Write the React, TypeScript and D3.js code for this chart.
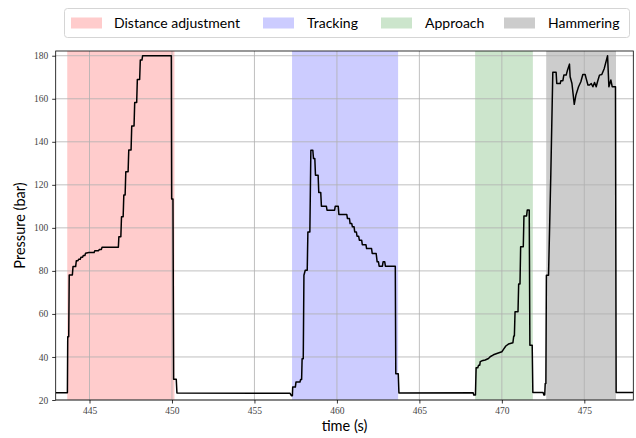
import { useEffect, useRef } from 'react'
import * as d3 from 'd3'

const W = 636, H = 438
const margin = { left: 55.7, right: 2.7, top: 51, bottom: 38 }

const xTicks = [445, 450, 455, 460, 465, 470, 475]
const yTicks = [20, 40, 60, 80, 100, 120, 140, 160, 180]

const phases = ['Distance adjustment', 'Tracking', 'Approach', 'Hammering']
const phaseStart = [443.65, 457.28, 468.38, 472.69]
const phaseEnd = [450.15, 463.71, 471.88, 476.92]
const phaseColors = ['#ffcccc', '#ccccff', '#cce5cc', '#cccccc']

// [time (s), pressure (bar)]
const trace: [number, number][] = [
  [442.95, 23.4], [443.66, 23.4], [443.68, 49.4], [443.74, 49.4], [443.77, 78.1], [443.96, 78.1],
  [444.0, 82.0], [444.16, 82.0], [444.2, 84.7], [444.3, 84.7], [444.34, 85.4], [444.44, 85.4],
  [444.48, 86.3], [444.58, 86.3], [444.62, 87.1], [444.72, 87.1], [444.76, 88.2], [444.96, 88.5],
  [445.28, 88.5], [445.32, 89.4], [445.55, 89.4], [445.6, 90.0], [445.72, 90.0], [445.76, 91.0],
  [446.75, 91.0], [446.78, 95.9], [446.9, 95.9], [446.94, 105.2], [447.04, 105.2], [447.08, 115.3],
  [447.16, 115.3], [447.2, 126.1], [447.34, 126.1], [447.38, 136.2], [447.52, 136.2], [447.56, 147.3],
  [447.7, 147.3], [447.74, 158.3], [447.86, 158.3], [447.9, 169.0], [448.04, 169.0], [448.08, 178.0],
  [448.18, 178.0], [448.22, 180.0], [449.96, 180.0], [449.98, 113.4], [450.06, 113.4], [450.1, 29.6],
  [450.26, 29.6], [450.3, 23.3],
  // tracking
  [457.16, 23.1], [457.24, 22.0], [457.3, 22.0], [457.32, 26.0], [457.48, 26.0], [457.52, 28.4],
  [457.76, 28.4], [457.8, 29.5], [457.86, 29.5], [457.89, 39.2], [457.96, 39.2], [458.0, 78.0],
  [458.08, 80.3], [458.2, 80.3], [458.24, 98.1], [458.36, 98.1], [458.42, 136.1], [458.54, 136.1],
  [458.58, 132.2], [458.66, 132.2], [458.7, 124.5], [458.86, 124.5], [458.9, 116.4], [459.02, 116.4],
  [459.06, 110.1], [459.36, 110.1], [459.4, 108.2], [459.86, 108.2], [459.9, 110.1], [460.08, 110.1],
  [460.12, 106.2], [460.6, 106.2], [460.64, 104.3], [460.76, 104.3], [460.8, 102.0], [460.9, 102.0],
  [460.94, 100.5], [461.04, 100.5], [461.08, 98.1], [461.18, 98.1], [461.22, 96.1], [461.32, 96.1],
  [461.36, 94.3], [461.5, 94.3], [461.54, 92.2], [461.76, 92.2], [461.8, 90.4], [462.1, 90.4],
  [462.14, 88.1], [462.38, 88.1], [462.44, 84.2], [462.52, 84.2], [462.56, 82.2], [462.76, 82.2],
  [462.8, 84.2], [462.9, 84.2], [462.94, 82.2], [463.54, 82.2], [463.57, 32.2], [463.72, 32.2],
  [463.76, 23.3],
  // approach
  [468.26, 23.4], [468.3, 22.3], [468.4, 22.3], [468.44, 35.0], [468.54, 35.0], [468.59, 36.2],
  [468.66, 36.2], [468.69, 37.8], [468.79, 38.2], [468.99, 38.6], [469.19, 39.3], [469.29, 40.1],
  [469.49, 41.0], [469.74, 41.7], [470.0, 42.4], [470.1, 43.5], [470.24, 45.1], [470.4, 46.0],
  [470.67, 46.6], [470.72, 49.7], [470.76, 49.7], [470.8, 61.0], [470.98, 61.0], [471.02, 73.9],
  [471.1, 73.9], [471.14, 91.2], [471.3, 91.2], [471.34, 105.5], [471.5, 105.5], [471.54, 108.3],
  [471.66, 108.3], [471.7, 45.5], [471.84, 45.5], [471.88, 23.5],
  // hammering
  [472.5, 23.5], [472.55, 22.3], [472.6, 22.3], [472.63, 27.7], [472.67, 27.7], [472.7, 78.0],
  [472.83, 78.0], [472.97, 125.3], [473.09, 172.3], [473.29, 172.3], [473.33, 167.1], [473.54, 167.1],
  [473.58, 168.4], [473.7, 168.4], [473.76, 171.0], [473.9, 171.0], [473.98, 173.3], [474.1, 176.1],
  [474.14, 170.2], [474.25, 167.1], [474.39, 157.4], [474.49, 161.7], [474.65, 165.6], [474.79, 167.9],
  [474.91, 171.3], [475.05, 171.3], [475.11, 169.5], [475.22, 166.4], [475.32, 166.4], [475.42, 167.1],
  [475.52, 165.6], [475.62, 167.6], [475.72, 165.6], [475.8, 167.9], [475.92, 171.0], [476.06, 171.3],
  [476.21, 174.1], [476.41, 180.0], [476.49, 165.6], [476.61, 168.7], [476.69, 165.6], [476.89, 165.6],
  [476.93, 23.5], [477.97, 23.5],
]

export default function App() {
  const svgRef = useRef<SVGSVGElement>(null)

  useEffect(() => {
    const svg = d3.select(svgRef.current)
    svg.selectAll('*').remove()

    const x = d3.scaleLinear().domain([442.95, 477.97]).range([margin.left, W - margin.right])
    const y = d3.scaleLinear().domain([20, 182.2]).range([H - margin.bottom, margin.top])
    const top = margin.top, bottom = H - margin.bottom

    svg.append('defs').append('clipPath').attr('id', 'plot')
      .append('rect')
      .attr('x', margin.left).attr('y', top)
      .attr('width', W - margin.left - margin.right).attr('height', bottom - top)

    // phase spans
    svg.append('g').selectAll('rect')
      .data(phases)
      .enter()
      .append('rect')
      .attr('x', (d, i) => x(phaseStart[i]))
      .attr('width', (d, i) => x(phaseEnd[i]) - x(phaseStart[i]))
      .attr('y', top)
      .attr('height', bottom - top)
      .attr('fill', (d, i) => phaseColors[i])

    // grid
    const grid = svg.append('g').attr('stroke', '#b0b0b0').attr('stroke-width', 0.8)
    xTicks.forEach(t => {
      grid.append('line').attr('x1', x(t)).attr('x2', x(t)).attr('y1', top).attr('y2', bottom)
    })
    yTicks.forEach(t => {
      grid.append('line').attr('x1', margin.left).attr('x2', W - margin.right).attr('y1', y(t)).attr('y2', y(t))
    })

    // pressure trace
    const line = d3.line<[number, number]>().x(d => x(d[0])).y(d => y(d[1]))
    svg.append('path')
      .attr('d', line(trace))
      .attr('fill', 'none')
      .attr('stroke', 'black')
      .attr('stroke-width', 1.5)
      .attr('stroke-linejoin', 'round')
      .attr('clip-path', 'url(#plot)')

    // axes
    const tickFont = '"Liberation Serif", serif'
    const xAxis = svg.append('g')
      .attr('transform', `translate(0,${bottom})`)
      .call(d3.axisBottom(x).tickValues(xTicks).tickSize(3.5).tickPadding(4).tickFormat(d3.format('d')))
    const yAxis = svg.append('g')
      .attr('transform', `translate(${margin.left},0)`)
      .call(d3.axisLeft(y).tickValues(yTicks).tickSize(3.5).tickPadding(4).tickFormat(d3.format('d')))
    ;[xAxis, yAxis].forEach(a => {
      a.select('.domain').remove()
      a.selectAll('line').attr('stroke', 'black').attr('stroke-width', 0.8)
      a.selectAll('text').attr('font-family', tickFont).attr('font-size', 9.5).attr('fill', '#444')
    })

    svg.append('rect')
      .attr('x', margin.left).attr('y', top)
      .attr('width', W - margin.left - margin.right).attr('height', bottom - top)
      .attr('fill', 'none').attr('stroke', 'black').attr('stroke-width', 0.8)

    const labelFont = 'Lato, "Noto Sans", sans-serif'
    svg.append('text')
      .text('time (s)')
      .attr('x', (margin.left + W - margin.right) / 2)
      .attr('y', 431)
      .attr('text-anchor', 'middle')
      .attr('font-family', labelFont)
      .attr('font-size', 14.5)
    svg.append('text')
      .text('Pressure (bar)')
      .attr('transform', `translate(25,${(top + bottom) / 2}) rotate(-90)`)
      .attr('text-anchor', 'middle')
      .attr('font-family', labelFont)
      .attr('font-size', 14.5)

    // legend
    const lg = svg.append('g')
    lg.append('rect')
      .attr('x', 64.5).attr('y', 8.5).attr('width', 565).attr('height', 29).attr('rx', 3)
      .attr('fill', 'white').attr('stroke', '#d5d5d5').attr('stroke-width', 1)
    const patchX = [71, 263, 381, 504]
    const textX = [114, 307, 425, 548]
    phases.forEach((p, i) => {
      lg.append('rect')
        .attr('x', patchX[i]).attr('y', 17.5).attr('width', 31).attr('height', 11)
        .attr('fill', phaseColors[i])
      lg.append('text')
        .text(p)
        .attr('x', textX[i]).attr('y', 28)
        .attr('font-family', labelFont)
        .attr('font-size', 14)
    })
  }, [])

  return (
    <svg ref={svgRef} width={W} height={H} style={{ position: 'absolute', left: 0, top: 0, background: 'white' }} />
  )
}
